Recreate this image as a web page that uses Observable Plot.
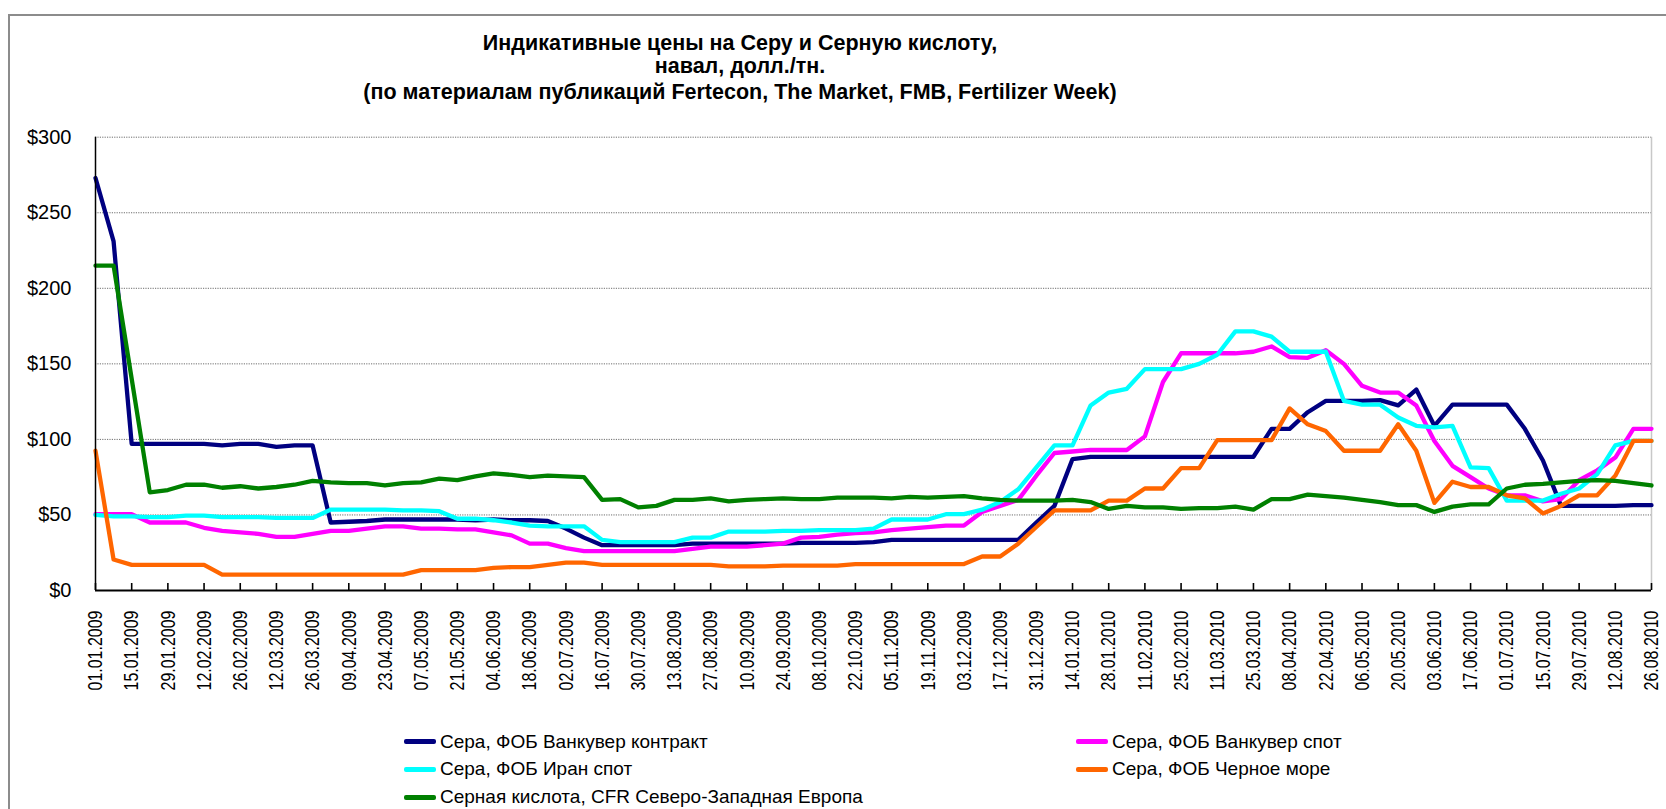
<!DOCTYPE html>
<html><head><meta charset="utf-8">
<script src="https://cdn.jsdelivr.net/npm/d3@7"></script>
<script src="https://cdn.jsdelivr.net/npm/@observablehq/plot@0.6"></script>
<style>
body{margin:0;background:#fff;font-family:"Liberation Sans",Arial,sans-serif;color:#000;}
#wrap{position:relative;width:1666px;height:809px;overflow:hidden;background:#fff;}
#frame{position:absolute;left:8px;top:14px;width:2000px;height:1000px;border-left:2px solid #8c8c8c;border-top:2px solid #8c8c8c;pointer-events:none;z-index:5;}
.tl{position:absolute;left:240px;width:1000px;text-align:center;font-weight:bold;font-size:21.5px;line-height:22px;white-space:nowrap;}
#chart{position:absolute;left:0;top:0;}
.lg{position:absolute;display:flex;align-items:center;font-size:19px;line-height:20px;white-space:nowrap;}
.sw{display:inline-block;width:32px;height:5px;border-radius:2px;margin-right:4px;}
</style></head>
<body><div id="wrap">
<div id="frame"></div>
<div class="tl" style="top:31.5px">Индикативные цены на Серу и Серную кислоту,</div>
<div class="tl" style="top:55px">навал, долл./тн.</div>
<div class="tl" style="top:80.5px">(по материалам публикаций Fertecon, The Market, FMB, Fertilizer Week)</div>
<div id="chart"></div>
<div id="legend"></div>
</div>
<script>
const dates = [
"01.01.2009","08.01.2009","15.01.2009","22.01.2009","29.01.2009","05.02.2009","12.02.2009","19.02.2009","26.02.2009","05.03.2009",
"12.03.2009","19.03.2009","26.03.2009","02.04.2009","09.04.2009","16.04.2009","23.04.2009","30.04.2009","07.05.2009","14.05.2009",
"21.05.2009","28.05.2009","04.06.2009","11.06.2009","18.06.2009","25.06.2009","02.07.2009","09.07.2009","16.07.2009","23.07.2009",
"30.07.2009","06.08.2009","13.08.2009","20.08.2009","27.08.2009","03.09.2009","10.09.2009","17.09.2009","24.09.2009","01.10.2009",
"08.10.2009","15.10.2009","22.10.2009","29.10.2009","05.11.2009","12.11.2009","19.11.2009","26.11.2009","03.12.2009","10.12.2009",
"17.12.2009","24.12.2009","31.12.2009","07.01.2010","14.01.2010","21.01.2010","28.01.2010","04.02.2010","11.02.2010","18.02.2010",
"25.02.2010","04.03.2010","11.03.2010","18.03.2010","25.03.2010","01.04.2010","08.04.2010","15.04.2010","22.04.2010","29.04.2010",
"06.05.2010","13.05.2010","20.05.2010","27.05.2010","03.06.2010","10.06.2010","17.06.2010","24.06.2010","01.07.2010","08.07.2010",
"15.07.2010","22.07.2010","29.07.2010","05.08.2010","12.08.2010","19.08.2010","26.08.2010"];

const vanContract = [
273,231,97,97,97,97,97,96,97,97,
95,96,96,45,45.5,46,47,47,47,47,
47,46.5,47,46.5,46.5,46,41,35,30,30,
30,30,30,31,31,31,31,31,31,31.5,
31.5,31.5,31.5,32,33.5,33.5,33.5,33.5,33.5,33.5,
33.5,33.5,45,56,87,88.5,88.5,88.5,88.5,88.5,
88.5,88.5,88.5,88.5,88.5,107,107,118,125.5,125.5,
125.5,126,122.5,133,109,123,123,123,123,107,
86,56,56,56,56,56.5,56.5];

const vanSpot = [
50.5,50.5,50.5,45,45,45,41.5,39.5,38.5,37.5,
35.5,35.5,37.5,39.5,39.5,41,42.5,42.5,41,41,
40.5,40.5,38.5,36.5,31,31,28,26,26,26,
26,26,26,27.5,29,29,29,30,31,35,
35.5,37,38,38.5,40,41,42,43,43,52,
56,60,76,91,92,93,93,93,102,138,
157,157,157,157,158,161.5,154.5,154,159,150,
135.5,131,131,122.5,99,82.5,75,67.5,63,63,
59,60.5,73,79.5,88,107,107];

const iranSpot = [
50,49,49,48.5,48.5,49.5,49.5,48.5,48.5,48.5,
48,48,48,53.5,53.5,53.5,53.5,53,53,52.5,
47.5,47.5,46.5,45,43,42.5,42.5,42.5,33.5,32,
32,32,32,35,35,39,39,39,39.5,39.5,
40,40,40,41,47,47,47,50.5,50.5,53.5,
58.5,67,81.5,96,96,122.5,131,133.5,146.5,146.5,
146.5,150,156,171.5,171.5,168,158,158,158,125.5,
123,123,114.5,109,108,109,81.5,81,59.5,59.5,
59.5,64,67.5,77,96,99,99];

const blackSea = [
92.5,20.5,17,17,17,17,17,10.5,10.5,10.5,
10.5,10.5,10.5,10.5,10.5,10.5,10.5,10.5,13.5,13.5,
13.5,13.5,15,15.5,15.5,17,18.5,18.5,17,17,
17,17,17,17,17,16,16,16,16.5,16.5,
16.5,16.5,17.5,17.5,17.5,17.5,17.5,17.5,17.5,22.5,
22.5,31,42,53,53,53,59.5,59.5,67.5,67.5,
81,81,99.5,99.5,99.5,99.5,120.5,110,105.5,92.5,
92.5,92.5,110,92.5,58,72,68.5,68.5,63,61,
51,56,63,63,76,99,99];

const acidNWE = [
215,215,140,65,66.5,70,70,68,69,67.5,
68.5,70,72.5,71.5,71,71,69.5,71,71.5,74,
73,75.5,77.5,76.5,75,76,75.5,75,60,60.5,
55,56,60,60,61,59,60,60.5,61,60.5,
60.5,61.5,61.5,61.5,61,62,61.5,62,62.5,61,
60,59.5,59.5,59.5,60,58.5,54,56,55,55,
54,54.5,54.5,55.5,53.5,60.5,60.5,63.5,62.5,61.5,
60,58.5,56.5,56.5,52,55.5,57,57,67.5,70,
70.5,71.5,72.5,73,72.5,71,69.5];

const seriesNames = [
"Сера, ФОБ Ванкувер контракт",
"Сера, ФОБ Ванкувер спот",
"Сера, ФОБ Иран спот",
"Сера, ФОБ Черное море",
"Серная кислота, CFR Северо-Западная Европа"];
const seriesColors = ["#000080","#FF00FF","#00FFFF","#FF6600","#008000"];
const seriesValues = [vanContract, vanSpot, iranSpot, blackSea, acidNWE];
const yTicks = [0,50,100,150,200,250,300];

const idx = dates.map((d,i)=>i);
const tickIdx = idx.filter(i => i % 2 === 0);

const H = 720, top0 = 136.7, bottom0 = 590;
const lineMarks = seriesValues.map((vals, k) =>
  Plot.line(vals.map((v,i)=>({i, v})), {x:"i", y:"v", stroke: seriesColors[k], strokeWidth: 4.3, strokeLinejoin:"round", strokeLinecap:"round"}));

const chart = Plot.plot({
  width: 1666, height: H,
  marginLeft: 95, marginRight: 15, marginTop: top0, marginBottom: H - bottom0,
  style: {fontFamily: "'Liberation Sans', Arial, sans-serif", background: "transparent", color: "#000"},
  x: {domain: [0, dates.length - 1], axis: null},
  y: {domain: [0, 300], axis: null},
  marks: [
    Plot.gridY({ticks: yTicks.filter(t=>t>0), stroke: "#6e6e6e", strokeOpacity: 1, strokeWidth: 1, strokeDasharray: "1.2,1.2"}),
    Plot.ruleX([dates.length - 1], {stroke: "#c8c8c8", strokeWidth: 1.5}),
    Plot.axisY({ticks: yTicks, tickSize: 0, tickPadding: 24, tickFormat: d => "$" + d, fontSize: 20, fill: "#000", label: null}),
    Plot.axisX({ticks: tickIdx, tickSize: 0, tickPadding: 20, tickRotate: -90, tickFormat: i => dates[i], fontSize: 21, fill: "#000", label: null}),
    Plot.ruleX(tickIdx, {x: d => d, stroke: "#000", strokeWidth: 1.6, insetTop: (bottom0 - top0) - 7}),
    ...lineMarks,
    Plot.ruleY([0], {stroke: "#000", strokeWidth: 2}),
    Plot.ruleX([0], {stroke: "#000", strokeWidth: 1.5})
  ]
});
// compress the rotated date labels to the reference's narrow glyph width
d3.select(chart).selectAll("g[aria-label='x-axis tick label'] text")
  .attr("textLength", 80).attr("lengthAdjust", "spacingAndGlyphs");
document.getElementById("chart").appendChild(chart);

const legendPos = [
  {left: 404, top: 741.5}, {left: 1076, top: 741.5},
  {left: 404, top: 769.3}, {left: 1076, top: 769.3},
  {left: 404, top: 797}
];
const lg = document.getElementById("legend");
seriesNames.forEach((name, k) => {
  const d = document.createElement("div");
  d.className = "lg";
  d.style.left = legendPos[k].left + "px";
  d.style.top = (legendPos[k].top - 10) + "px";
  const sw = document.createElement("span");
  sw.className = "sw";
  sw.style.background = seriesColors[k];
  d.appendChild(sw);
  d.appendChild(document.createTextNode(name));
  lg.appendChild(d);
});
</script>
</body></html>
